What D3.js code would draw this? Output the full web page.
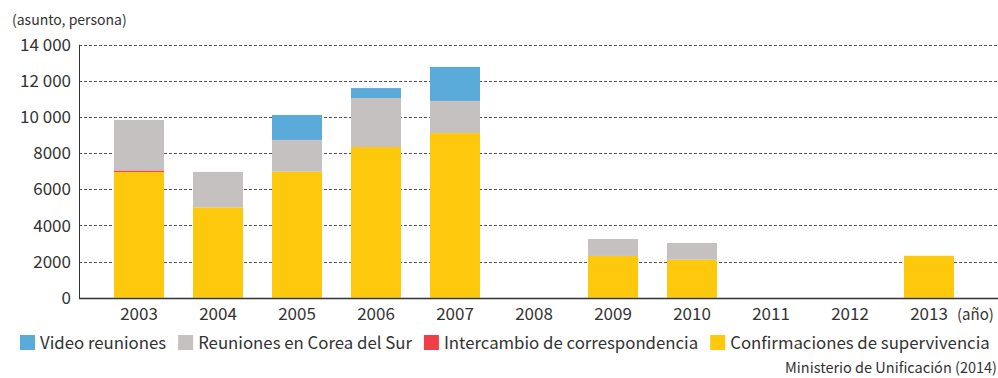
<!DOCTYPE html>
<html>
<head>
<meta charset="utf-8">
<script src="https://cdn.jsdelivr.net/npm/d3@7"></script>
<style>
  html, body { margin: 0; padding: 0; background: #fff; }
  svg { display: block; }
  text { font-family: "Noto Sans CJK KR", "Open Sans", sans-serif; fill: #333; }
</style>
</head>
<body>
<svg id="chart" width="998" height="378"></svg>
<script>
// Years on the category axis
const years = ["2003", "2004", "2005", "2006", "2007", "2008", "2009", "2010", "2011", "2012", "2013"];

// Stacked series (bottom to top)
const confirmaciones = [6960, 5000, 6970, 8340, 9110, 0, 2310, 2100, 0, 0, 2320];
const intercambio    = [80, 0, 0, 0, 0, 0, 0, 0, 0, 0, 0];
const reunionesSur   = [2800, 1960, 1760, 2710, 1780, 0, 940, 930, 0, 0, 0];
const videoReuniones = [0, 0, 1380, 550, 1880, 0, 0, 0, 0, 0, 0];

const yTicks = [0, 2000, 4000, 6000, 8000, 10000, 12000, 14000];
const yTickLabels = ["0", "2000", "4000", "6000", "8000", "10 000", "12 000", "14 000"];

const seriesNames = ["Confirmaciones de supervivencia", "Intercambio de correspondencia", "Reuniones en Corea del Sur", "Video reuniones"];
const seriesColors = ["#fec90c", "#ef3e46", "#c5c1c0", "#5babda"];
const legendOrder = ["Video reuniones", "Reuniones en Corea del Sur", "Intercambio de correspondencia", "Confirmaciones de supervivencia"];

const svg = d3.select("#chart");

const axisX = 79, plotRight = 998;
const x = d3.scaleBand().domain(years).range([99.5, 968.5])
  .paddingInner(29 / 79).paddingOuter(29 / 158);
const y = d3.scaleLinear().domain([0, 14000]).range([297.7, 44.7]);

// Dashed horizontal grid
svg.append("g").selectAll("line").data(yTicks.slice(1)).join("line")
  .attr("x1", axisX).attr("x2", plotRight)
  .attr("y1", d => Math.round(y(d)) + 0.5).attr("y2", d => Math.round(y(d)) + 0.5)
  .attr("stroke", "#555").attr("stroke-width", 1).attr("stroke-dasharray", "3,2");

// Stack the series
const rows = years.map((yr, i) => ({
  year: yr,
  s0: confirmaciones[i], s1: intercambio[i], s2: reunionesSur[i], s3: videoReuniones[i]
}));
const stacked = d3.stack().keys(["s0", "s1", "s2", "s3"])(rows);

svg.append("g").selectAll("g").data(stacked).join("g")
  .attr("fill", (d, i) => seriesColors[i])
  .selectAll("rect").data(d => d.filter(p => p[1] > p[0])).join("rect")
  .attr("x", d => x(d.data.year))
  .attr("width", x.bandwidth())
  .attr("y", d => y(d[1]))
  .attr("height", d => y(d[0]) - y(d[1]));

// Axes lines
svg.append("line").attr("x1", axisX + 0.5).attr("x2", axisX + 0.5)
  .attr("y1", y(14000)).attr("y2", 298.5).attr("stroke", "#333").attr("stroke-width", 1);
svg.append("line").attr("x1", axisX).attr("x2", plotRight)
  .attr("y1", 298.5).attr("y2", 298.5).attr("stroke", "#333").attr("stroke-width", 1.3);

// Y tick labels
svg.append("g").selectAll("text").data(yTicks).join("text")
  .attr("x", 71).attr("y", d => y(d)).attr("dy", "0.36em")
  .attr("text-anchor", "end").attr("font-size", 17)
  .text((d, i) => yTickLabels[i]);

// Unit label
svg.append("text").attr("x", 12).attr("y", 25).attr("font-size", 14)
  .text("(asunto, persona)");

// X tick labels
svg.append("g").selectAll("text").data(years).join("text")
  .attr("x", d => x(d) + x.bandwidth() / 2).attr("y", 320)
  .attr("text-anchor", "middle").attr("font-size", 17)
  .text(d => d);
svg.append("text").attr("x", 957).attr("y", 320).attr("font-size", 15).text("(año)");

// Legend
const legend = svg.append("g");
let lx = 20;
legendOrder.forEach(name => {
  const color = seriesColors[seriesNames.indexOf(name)];
  legend.append("rect").attr("x", lx).attr("y", 335).attr("width", 15).attr("height", 15).attr("fill", color);
  const t = legend.append("text").attr("x", lx + 20).attr("y", 349).attr("font-size", 16.8).text(name);
  lx += 20 + t.node().getComputedTextLength() + 12;
});

// Source
svg.append("text").attr("x", 997).attr("y", 373).attr("text-anchor", "end")
  .attr("font-size", 14.5).text("Ministerio de Unificación (2014)");
</script>
</body>
</html>
